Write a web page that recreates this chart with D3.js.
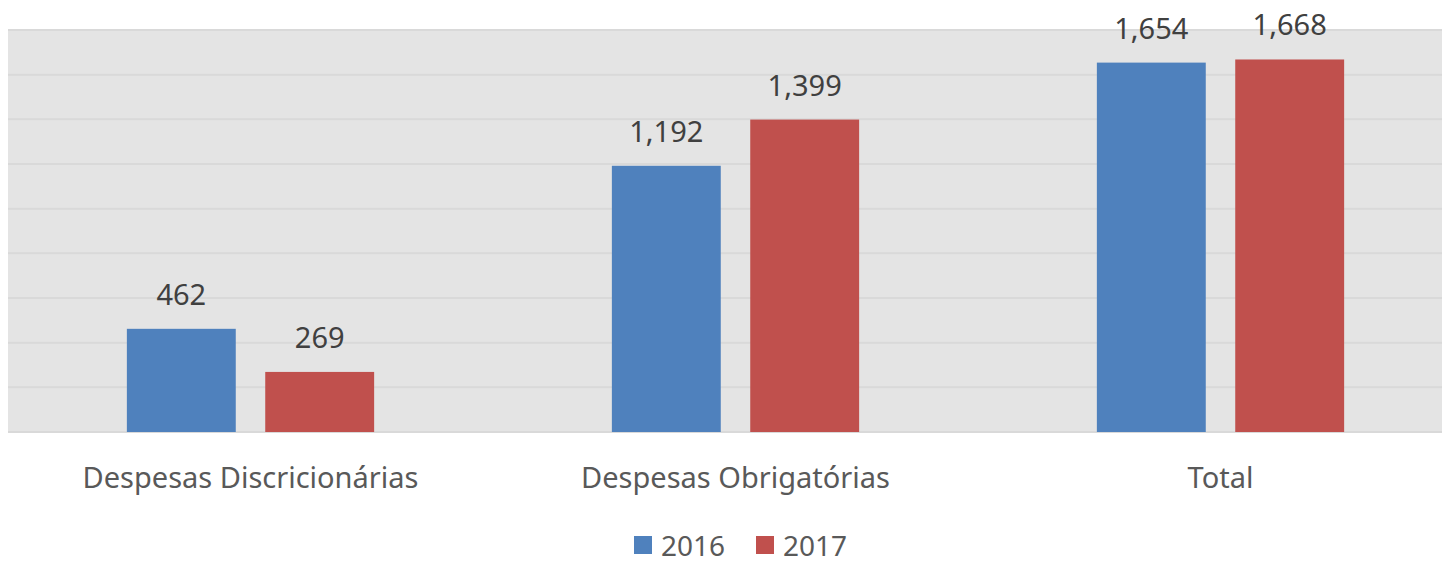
<!DOCTYPE html>
<meta charset="utf-8">
<style>
    body { margin: 0; background: #fff; }
    text { font-family: "Noto Sans", sans-serif; }
    .grid line { stroke: #d9d9d9; stroke-width: 2; }
</style>
<body>
<script src="https://d3js.org/d3.v7.min.js"></script>
<script>
    var categories = ['Despesas Discricionárias', 'Despesas Obrigatórias', 'Total'],
        years = ['2016', '2017'],
        values2016 = [462, 1192, 1654],
        values2017 = [269, 1399, 1668],
        yTicks = [0, 200, 400, 600, 800, 1000, 1200, 1400, 1600, 1800],
        colors = ['#4f81bd', '#c0504d'];

    var width = 1442, height = 563,
        plotLeft = 8, plotRight = 1463, plotTop = 30, plotBottom = 432;

    var svg = d3.select('body').append('svg')
        .attr('width', width)
        .attr('height', height);

    var x0 = d3.scaleBand().domain(categories).range([plotLeft, plotRight]);
    var x1 = d3.scaleBand().domain(years).range([0, x0.bandwidth()])
        .paddingInner(0.213).paddingOuter(0.859);
    var y = d3.scaleLinear().domain([0, 1800]).range([plotBottom, plotTop]);

    svg.append('rect')
        .attr('x', plotLeft).attr('y', plotTop)
        .attr('width', plotRight - plotLeft).attr('height', plotBottom - plotTop)
        .attr('fill', '#e4e4e4');

    svg.append('g').attr('class', 'grid')
        .selectAll('line').data(yTicks).enter().append('line')
        .attr('x1', plotLeft).attr('x2', plotRight)
        .attr('y1', function(d) { return y(d); })
        .attr('y2', function(d) { return y(d); });

    var rows = categories.map(function(c, i) {
        return { cat: c, vals: [values2016[i], values2017[i]] };
    });

    var groups = svg.selectAll('g.cat').data(rows).enter().append('g')
        .attr('class', 'cat')
        .attr('transform', function(d) { return 'translate(' + x0(d.cat) + ',0)'; });

    groups.selectAll('rect').data(function(d) { return d.vals; }).enter().append('rect')
        .attr('x', function(d, i) { return x1(years[i]); })
        .attr('y', function(d) { return y(d); })
        .attr('width', x1.bandwidth())
        .attr('height', function(d) { return plotBottom - y(d); })
        .attr('fill', function(d, i) { return colors[i]; });

    groups.selectAll('text.val').data(function(d) { return d.vals; }).enter().append('text')
        .attr('class', 'val')
        .attr('x', function(d, i) { return x1(years[i]) + x1.bandwidth() / 2; })
        .attr('y', function(d) { return y(d) - 24; })
        .attr('text-anchor', 'middle')
        .attr('font-size', 29)
        .attr('fill', '#404040')
        .text(function(d) { return d3.format(',')(d); });

    svg.selectAll('text.cat').data(categories).enter().append('text')
        .attr('class', 'cat')
        .attr('x', function(d) { return x0(d) + x0.bandwidth() / 2; })
        .attr('y', 488)
        .attr('text-anchor', 'middle')
        .attr('font-size', 29)
        .attr('fill', '#595959')
        .text(function(d) { return d; });

    var legendX = [634, 756];
    var legend = svg.selectAll('g.legend').data(years).enter().append('g')
        .attr('class', 'legend')
        .attr('transform', function(d, i) { return 'translate(' + legendX[i] + ',536)'; });
    legend.append('rect')
        .attr('width', 18).attr('height', 18)
        .attr('fill', function(d, i) { return colors[i]; });
    legend.append('text')
        .attr('x', 27).attr('y', 20)
        .attr('font-size', 28)
        .attr('fill', '#595959')
        .text(function(d) { return d; });
</script>
</body>
